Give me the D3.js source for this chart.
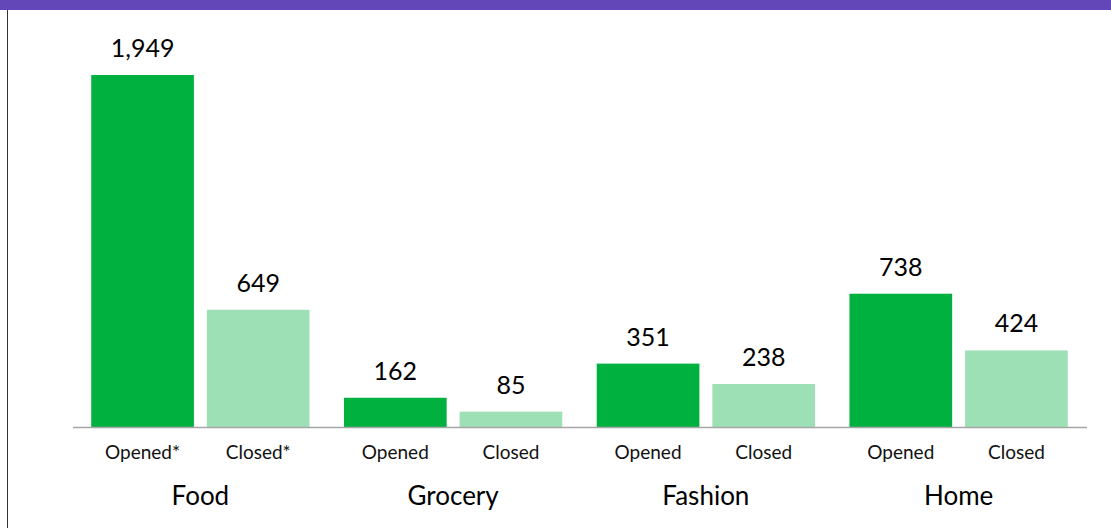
<!DOCTYPE html>
<html>
<head>
<meta charset="utf-8">
<script src="https://cdn.jsdelivr.net/npm/d3@7"></script>
<style>
  body { margin: 0; background: #fff; }
  svg { display: block; font-family: Lato, "Open Sans", sans-serif; }
</style>
</head>
<body>
<div class="visHolder"></div>
<script>
const w = 1111;
const h = 528;

// data
const categories = ['Food', 'Grocery', 'Fashion', 'Home'];
const kinds = ['Opened', 'Closed'];
const opened = [1949, 162, 351, 738];
const closed = [649, 85, 238, 424];
const kindLabels = [['Opened*', 'Closed*'], ['Opened', 'Closed'], ['Opened', 'Closed'], ['Opened', 'Closed']];

const colors = { Opened: '#00b140', Closed: '#9ee0b5' };

const rows = [];
categories.forEach((c, i) => {
  rows.push({ cat: c, kind: 'Opened', value: opened[i], label: kindLabels[i][0] });
  rows.push({ cat: c, kind: 'Closed', value: closed[i], label: kindLabels[i][1] });
});

const svg = d3.select('.visHolder').append('svg').attr('width', w).attr('height', h);

// frame
svg.append('rect').attr('x', 0).attr('y', 0).attr('width', w).attr('height', 10).attr('fill', '#6347b9');
svg.append('line').attr('x1', 7.5).attr('x2', 7.5).attr('y1', 10).attr('y2', h).attr('stroke', '#333').attr('stroke-width', 1);

const x0 = d3.scaleBand().domain(categories).range([74, 1085]).padding(0);
const x1 = d3.scaleBand().domain(kinds).range([0, x0.bandwidth()]).paddingInner(0.112).paddingOuter(0.149);
const y = d3.scaleLinear().domain([0, 1949]).range([427, 75]);

// bars
svg.selectAll('rect.bar').data(rows).enter().append('rect')
  .attr('class', 'bar')
  .attr('x', d => x0(d.cat) + x1(d.kind))
  .attr('y', d => y(d.value))
  .attr('width', x1.bandwidth())
  .attr('height', d => y(0) - y(d.value))
  .attr('fill', d => colors[d.kind]);

// value labels
svg.selectAll('text.val').data(rows).enter().append('text')
  .attr('class', 'val')
  .attr('x', d => x0(d.cat) + x1(d.kind) + x1.bandwidth() / 2)
  .attr('y', d => y(d.value) - 18)
  .attr('text-anchor', 'middle')
  .attr('font-size', 25)
  .attr('fill', '#000')
  .text(d => d3.format(',')(d.value));

// baseline
svg.append('line').attr('x1', 73).attr('x2', 1087).attr('y1', 427.5).attr('y2', 427.5)
  .attr('stroke', '#a6a6a6').attr('stroke-width', 1.5);

// sub labels
svg.selectAll('text.kind').data(rows).enter().append('text')
  .attr('class', 'kind')
  .attr('x', d => x0(d.cat) + x1(d.kind) + x1.bandwidth() / 2)
  .attr('y', 459)
  .attr('text-anchor', 'middle')
  .attr('font-size', 19)
  .attr('fill', '#111')
  .text(d => d.label);

// category labels
svg.selectAll('text.cat').data(categories).enter().append('text')
  .attr('class', 'cat')
  .attr('x', d => x0(d) + x0.bandwidth() / 2)
  .attr('y', 505)
  .attr('text-anchor', 'middle')
  .attr('font-size', 26)
  .attr('fill', '#000')
  .text(d => d);
</script>
</body>
</html>
